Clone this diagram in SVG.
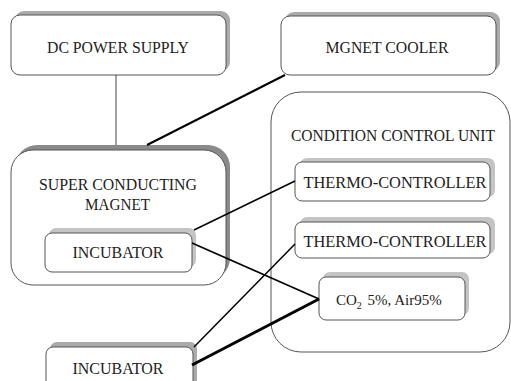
<svg xmlns="http://www.w3.org/2000/svg" width="511" height="381" viewBox="0 0 511 381" font-family="'Liberation Serif', 'DejaVu Serif', 'Noto Serif', serif">
<style>
.box{fill:#fff;stroke:#555;stroke-width:1}
.sh{fill:#aaa}
.shd{fill:#8a8a8a}
.shl{fill:#c4c4c4}
text{font-family:'Liberation Serif','DejaVu Serif','Noto Serif',serif;font-size:17px;fill:#222;text-anchor:middle}
.s{font-size:15px;text-anchor:start}
.c{stroke:#000;fill:none}
</style>
<rect width="511" height="381" fill="#fff"/>
<g id="ccu">
<rect class="box" x="271" y="92" width="239" height="260" rx="30"/>
<text x="393" y="141" style="font-size:16px" textLength="204" lengthAdjust="spacingAndGlyphs">CONDITION CONTROL UNIT</text>
</g>
<g id="dc-power-supply">
<rect class="sh" x="15" y="11" width="215" height="60" rx="9"/>
<rect class="box" x="11" y="15" width="215" height="60" rx="9"/>
<text x="118" y="53" textLength="142" lengthAdjust="spacingAndGlyphs">DC POWER SUPPLY</text>
</g>
<g id="magnet-cooler">
<rect class="sh" x="285" y="12" width="215" height="59" rx="9"/>
<rect class="box" x="281" y="16" width="215" height="59" rx="9"/>
<text x="387" y="52.5" textLength="123" lengthAdjust="spacingAndGlyphs">MGNET COOLER</text>
</g>
<g id="super-conducting-magnet">
<rect class="shd" x="15" y="145" width="215" height="135" rx="22"/>
<rect class="box" x="11" y="150" width="215" height="135" rx="22"/>
<text x="118" y="190" textLength="158" lengthAdjust="spacingAndGlyphs">SUPER CONDUCTING</text>
<text x="117.5" y="210" textLength="65" lengthAdjust="spacingAndGlyphs">MAGNET</text>
</g>
<g id="incubator-inner">
<rect class="shl" x="49" y="228" width="147" height="39" rx="7"/>
<rect class="box" x="45" y="233" width="147" height="39" rx="7"/>
<text x="118" y="258" textLength="91" lengthAdjust="spacingAndGlyphs">INCUBATOR</text>
</g>
<g id="incubator-outer">
<rect class="sh" x="50" y="342" width="147" height="50" rx="7"/>
<rect class="box" x="46" y="347" width="147" height="50" rx="7"/>
<text x="118" y="374" textLength="91" lengthAdjust="spacingAndGlyphs">INCUBATOR</text>
</g>
<g id="thermo-controller-1">
<rect class="shl" x="300" y="158" width="195" height="39" rx="7"/>
<rect class="box" x="295" y="162" width="195" height="39" rx="7"/>
<text x="395" y="188" textLength="183" lengthAdjust="spacingAndGlyphs">THERMO-CONTROLLER</text>
</g>
<g id="thermo-controller-2">
<rect class="shl" x="300" y="217" width="195" height="37" rx="7"/>
<rect class="box" x="295" y="222" width="195" height="36" rx="7"/>
<text x="395" y="247" textLength="183" lengthAdjust="spacingAndGlyphs">THERMO-CONTROLLER</text>
</g>
<g id="gas-supply">
<rect class="shl" x="323" y="272" width="146" height="43" rx="7"/>
<rect class="box" x="319" y="277" width="146" height="43" rx="7"/>
<text class="s" x="336" y="305">CO<tspan font-size="10" dy="4">2</tspan><tspan dy="-4" dx="2"> 5%, Air95%</tspan></text>
</g>
<g id="connectors">
<line class="c" x1="116" y1="75" x2="116" y2="145" stroke-width="1" style="stroke:#444"/>
<line class="c" x1="285" y1="75" x2="147" y2="145" stroke-width="2"/>
<line class="c" x1="194" y1="230" x2="295" y2="181" stroke-width="1.5"/>
<line class="c" x1="192" y1="243" x2="319" y2="299" stroke-width="1.8"/>
<line class="c" x1="194" y1="347" x2="295" y2="244" stroke-width="1.5"/>
<line class="c" x1="192" y1="365" x2="319" y2="299" stroke-width="3"/>
</g>
</svg>
